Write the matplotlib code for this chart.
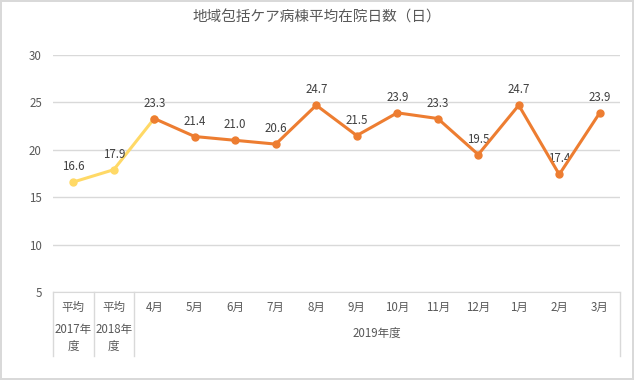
import numpy as np
import matplotlib.pyplot as plt

plt.rcParams['font.family'] = ['Noto Sans CJK JP', 'DejaVu Sans']

# data
top_labels = ['平均', '平均', '4月', '5月', '6月', '7月', '8月', '9月',
              '10月', '11月', '12月', '1月', '2月', '3月']
year_labels = ['2017年\n度', '2018年\n度']
group_label = '2019年度'
avg_values = [16.6, 17.9, 23.3]
month_values = [23.3, 21.4, 21.0, 20.6, 24.7, 21.5, 23.9, 23.3, 19.5, 24.7, 17.4, 23.9]
title = '地域包括ケア病棟平均在院日数（日）'

yellow = '#FFD966'
orange = '#ED7D31'
grid_c = '#D9D9D9'
text_c = '#595959'
fs = 8.3

fig = plt.figure(figsize=(6.34, 3.8), dpi=100)
fig.patch.set_edgecolor(grid_c)
fig.patch.set_linewidth(1.5)
ax = fig.add_axes([53 / 634, 1 - 292 / 380, 567 / 634, 237 / 380])

x_avg = np.arange(len(avg_values))
x_mon = np.arange(2, 2 + len(month_values))

ax.plot(x_avg, avg_values, color=yellow, lw=2.2, marker='o', ms=5, zorder=3)
ax.plot(x_mon, month_values, color=orange, lw=2.2, marker='o', ms=5, zorder=4)

for xi, v in zip(x_avg[:2], avg_values[:2]):
    ax.annotate(f'{v:.1f}', (xi, v), xytext=(0, 9), textcoords='offset pixels',
                ha='center', va='bottom', fontsize=fs, color='#404040')
for xi, v in zip(x_mon, month_values):
    ax.annotate(f'{v:.1f}', (xi, v), xytext=(0, 9), textcoords='offset pixels',
                ha='center', va='bottom', fontsize=fs, color='#404040')

ax.set_xlim(-0.5, len(top_labels) - 0.5)
ax.set_ylim(5, 30)
ax.set_yticks(np.arange(5, 31, 5))
ax.yaxis.grid(True, color=grid_c, lw=1)
ax.set_axisbelow(True)
ax.tick_params(axis='y', length=0, labelsize=fs, labelcolor=text_c, pad=8)
ax.set_xticks([])
for s in ['top', 'right', 'left']:
    ax.spines[s].set_visible(False)
ax.spines['bottom'].set_color(grid_c)

xt = ax.get_xaxis_transform()
for i, lab in enumerate(top_labels):
    ax.annotate(lab, (i, 0), xycoords=xt, xytext=(0, -15), textcoords='offset pixels',
                ha='center', va='center', fontsize=fs, color=text_c)
for i, lab in enumerate(year_labels):
    ax.annotate(lab, (i, 0), xycoords=xt, xytext=(0, -46), textcoords='offset pixels',
                ha='center', va='center', fontsize=fs, color=text_c, linespacing=1.45)
ax.annotate(group_label, (2 + (len(month_values) - 1) / 2, 0), xycoords=xt,
            xytext=(0, -41), textcoords='offset pixels',
            ha='center', va='center', fontsize=fs, color=text_c)

for xs in [-0.5, 0.5, 1.5, len(top_labels) - 0.5]:
    ax.plot([xs, xs], [0, -64 / 237], transform=xt, color=grid_c, lw=1, clip_on=False)

fig.text(0.5, 1 - 18 / 380, title, ha='center', va='center', fontsize=10.5, color=text_c)

fig.savefig('out.png', dpi=100)
